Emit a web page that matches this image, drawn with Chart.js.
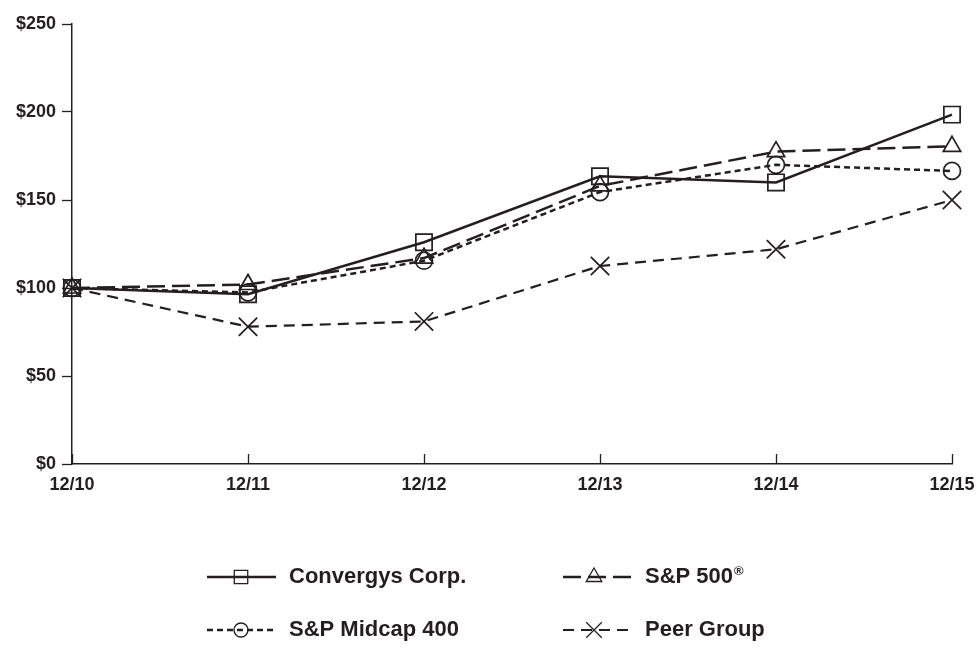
<!DOCTYPE html>
<html><head><meta charset="utf-8">
<script src="https://cdn.jsdelivr.net/npm/chart.js@4/dist/chart.umd.min.js"></script>
<style>html,body{margin:0;padding:0;background:#fff}#wrap{width:980px;height:653px}</style>
</head><body><div id="wrap"><canvas id="c" width="980" height="653"></canvas></div>
<script>
const categories = ['12/10','12/11','12/12','12/13','12/14','12/15'];
const convergys = [100, 96.5, 126, 163.5, 160, 198.5];
const sp500 = [100, 102, 117, 158, 177.5, 180.5];
const midcap = [100, 97.5, 115.5, 154.5, 170, 166.5];
const peer = [100, 78, 81, 112.5, 122, 150];
const seriesNames = ['Convergys Corp.', 'S&P 500', 'S&P Midcap 400', 'Peer Group'];
const seriesSup = ['', '\u00AE', '', ''];
const yTicks = [0, 50, 100, 150, 200, 250];

const INK = '#231f20';
const FONT = '"Liberation Sans", Arial, sans-serif';
const styles = [
  {dash: [], width: 2.5, point: 'rect', r: 11.5, lr: 9.5},
  {dash: [18, 7], width: 2.5, point: 'triangle', r: 10, lr: 9},
  {dash: [6, 4], width: 2.5, point: 'circle', r: 8.5, lr: 7},
  {dash: [11, 7], width: 2.2, point: 'crossRot', r: 13, lr: 11}
];
const values = [convergys, sp500, midcap, peer];

const datasets = values.map((v, i) => ({
  label: seriesNames[i],
  data: v,
  borderColor: INK,
  borderWidth: styles[i].width,
  borderDash: styles[i].dash,
  pointStyle: styles[i].point,
  pointRadius: styles[i].r,
  pointBorderColor: INK,
  pointBorderWidth: 1.7,
  pointBackgroundColor: 'rgba(0,0,0,0)',
  tension: 0,
  fill: false,
  clip: false
}));

const innerTicks = {
  id: 'innerTicks',
  afterDraw(chart) {
    const ctx = chart.ctx, x = chart.scales.x, area = chart.chartArea;
    ctx.save();
    ctx.strokeStyle = INK; ctx.lineWidth = 1.3;
    categories.forEach((c, i) => {
      const px = Math.round(x.getPixelForValue(i)) + 0.5;
      ctx.beginPath(); ctx.moveTo(px, area.bottom); ctx.lineTo(px, area.bottom - 10); ctx.stroke();
    });
    ctx.restore();
  }
};

const customLegend = {
  id: 'customLegend',
  afterDraw(chart) {
    const ctx = chart.ctx;
    const pos = [
      {x: 207, y: 577, mk: 241},
      {x: 563, y: 577, mk: 594},
      {x: 207, y: 630, mk: 241},
      {x: 563, y: 630, mk: 594}
    ];
    const lineW = 69;
    ctx.save();
    chart.data.datasets.forEach((ds, i) => {
      const p = pos[i];
      ctx.strokeStyle = INK;
      ctx.lineWidth = ds.borderWidth;
      ctx.setLineDash(ds.borderDash);
      ctx.beginPath(); ctx.moveTo(p.x, p.y); ctx.lineTo(p.x + lineW, p.y); ctx.stroke();
      ctx.setLineDash([]);
      ctx.fillStyle = 'rgba(0,0,0,0)';
      ctx.strokeStyle = INK;
      ctx.lineWidth = 1.3;
      Chart.helpers.drawPoint(ctx, {pointStyle: ds.pointStyle, radius: styles[i].lr, borderWidth: 1.3, rotation: 0}, p.mk, p.y);
      ctx.fillStyle = INK;
      ctx.font = 'bold 22px ' + FONT;
      ctx.textBaseline = 'middle';
      ctx.textAlign = 'left';
      const tx = p.x + lineW + 13;
      ctx.fillText(ds.label, tx, p.y);
      if (seriesSup[i]) {
        const w = ctx.measureText(ds.label).width;
        ctx.font = 'bold 13px ' + FONT;
        ctx.fillText(seriesSup[i], tx + w + 1, p.y - 6);
      }
    });
    ctx.restore();
  }
};

new Chart(document.getElementById('c'), {
  type: 'line',
  data: {labels: categories, datasets},
  options: {
    responsive: false,
    animation: false,
    devicePixelRatio: 1,
    layout: {padding: {top: 24, right: 28, left: 0, bottom: 0}},
    plugins: {legend: {display: false}, tooltip: {enabled: false}},
    scales: {
      x: {
        offset: false,
        grid: {display: true, drawOnChartArea: false, drawTicks: false, color: INK},
        border: {color: INK, width: 1.5},
        ticks: {color: INK, padding: 10, maxRotation: 0, autoSkip: false, font: {family: FONT, weight: 'bold', size: 18}},
        afterFit(s) { s.height = 189; s.paddingLeft = 0; s.paddingRight = 0; }
      },
      y: {
        min: 0, max: 250,
        afterBuildTicks(s) { s.ticks = yTicks.map(v => ({value: v})); },
        grid: {display: true, drawOnChartArea: false, drawTicks: true, tickLength: 10, color: INK, tickWidth: 1.3},
        border: {color: INK, width: 1.5},
        ticks: {color: INK, padding: 6, callback: v => '$' + v, font: {family: FONT, weight: 'bold', size: 18}},
        afterFit(s) { s.width = 72; s.paddingTop = 0; s.paddingBottom = 0; }
      }
    }
  },
  plugins: [innerTicks, customLegend]
});
</script></body></html>
